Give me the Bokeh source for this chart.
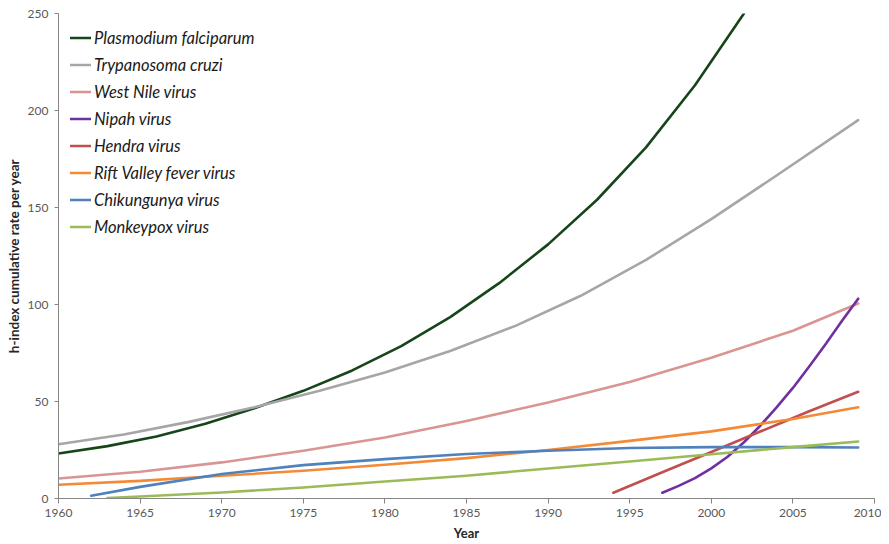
from bokeh.plotting import figure
from bokeh.models import Range1d, Legend, LegendItem, FixedTicker
from bokeh.embed import file_html
from bokeh.resources import INLINE

# ---- data ----
plasmodium_years = [1960, 1963, 1966, 1969, 1972, 1975, 1978, 1981, 1984, 1987, 1990, 1993, 1996, 1999, 2002]
plasmodium_vals  = [23.2, 27.0, 32.0, 38.5, 46.5, 55.5, 66.0, 78.5, 93.5, 111.0, 131.0, 154.0, 181.0, 213.0, 250.0]

trypanosoma_years = [1960, 1964, 1968, 1972, 1976, 1980, 1984, 1988, 1992, 1996, 2000, 2004, 2009]
trypanosoma_vals  = [28.0, 33.0, 39.5, 47.0, 55.5, 65.0, 76.0, 89.0, 104.5, 123.0, 144.0, 166.5, 195.0]

westnile_years = [1960, 1965, 1970, 1975, 1980, 1985, 1990, 1995, 2000, 2005, 2009]
westnile_vals  = [10.3, 13.8, 18.6, 24.6, 31.4, 40.0, 49.5, 60.0, 72.5, 86.5, 100.5]

nipah_years = [1997, 1998, 1999, 2000, 2001, 2002, 2003, 2004, 2005, 2006, 2007, 2008, 2009]
nipah_vals  = [3.0, 6.5, 10.5, 15.5, 21.5, 29.0, 37.5, 47.0, 57.0, 68.0, 79.5, 91.5, 103.0]

hendra_years = [1994, 1997, 2000, 2003, 2006, 2009]
hendra_vals  = [3.0, 13.5, 24.0, 34.5, 45.0, 55.0]

rift_years = [1960, 1965, 1970, 1975, 1980, 1985, 1990, 1995, 2000, 2005, 2009]
rift_vals  = [7.1, 9.1, 11.7, 14.3, 17.4, 20.8, 25.0, 29.7, 34.6, 41.0, 47.0]

chik_years = [1962, 1965, 1970, 1975, 1980, 1985, 1990, 1995, 2000, 2005, 2009]
chik_vals  = [1.4, 6.0, 12.6, 17.2, 20.3, 22.9, 24.6, 26.0, 26.5, 26.5, 26.3]

monkey_years = [1963, 1965, 1970, 1975, 1980, 1985, 1990, 1995, 2000, 2005, 2009]
monkey_vals  = [0.2, 1.0, 3.1, 5.7, 8.8, 11.7, 15.5, 19.1, 22.8, 26.5, 29.4]

series_names = ["Plasmodium falciparum", "Trypanosoma cruzi", "West Nile virus", "Nipah virus",
                "Hendra virus", "Rift Valley fever virus", "Chikungunya virus", "Monkeypox virus"]
series_colors = ["#17451a", "#a6a6a6", "#d99594", "#7030a0", "#c0504d", "#f58a36", "#4f81bd", "#9bbb59"]
series_data = [(plasmodium_years, plasmodium_vals), (trypanosoma_years, trypanosoma_vals),
               (westnile_years, westnile_vals), (nipah_years, nipah_vals),
               (hendra_years, hendra_vals), (rift_years, rift_vals),
               (chik_years, chik_vals), (monkey_years, monkey_vals)]

x_ticks = [1960, 1965, 1970, 1975, 1980, 1985, 1990, 1995, 2000, 2005, 2010]
y_ticks = [0, 50, 100, 150, 200, 250]

FONT = "Lato"
AXIS_GRAY = "#868686"
TEXT_GRAY = "#595959"

p = figure(frame_width=816, frame_height=485, output_backend="svg", toolbar_location=None,
           x_range=Range1d(1960, 2010), y_range=Range1d(0, 250),
           min_border_left=58, min_border_right=7, min_border_top=13, min_border_bottom=40)
p.outline_line_color = None
p.xgrid.grid_line_color = None
p.ygrid.grid_line_color = None
p.background_fill_color = "white"

renderers = []
for (xs, ys), c in zip(series_data, series_colors):
    r = p.line(xs, ys, line_color=c, line_width=2.6, line_cap="round", line_join="round")
    renderers.append(r)

for ax in (p.xaxis[0], p.yaxis[0]):
    ax.axis_line_color = AXIS_GRAY
    ax.major_tick_line_color = AXIS_GRAY
    ax.minor_tick_line_color = None
    ax.major_tick_in = 0
    ax.major_label_text_font = FONT
    ax.major_label_text_font_size = "12px"
    ax.major_label_text_color = TEXT_GRAY

p.xaxis.ticker = FixedTicker(ticks=x_ticks)
p.yaxis.ticker = FixedTicker(ticks=y_ticks)
p.xaxis.major_tick_out = 5
p.xaxis.major_label_standoff = 5
p.yaxis.major_tick_out = 4
p.yaxis.major_label_standoff = 6

p.xaxis.axis_label = "Year"
p.xaxis.axis_label_text_font = FONT
p.xaxis.axis_label_text_font_size = "13px"
p.xaxis.axis_label_text_font_style = "bold"
p.xaxis.axis_label_text_color = "#262626"
p.xaxis.axis_label_standoff = 5

p.yaxis.axis_label = "h-index cumulative rate per year"
p.yaxis.axis_label_text_font = FONT
p.yaxis.axis_label_text_font_size = "13.5px"
p.yaxis.axis_label_text_font_style = "bold"
p.yaxis.axis_label_text_color = "#262626"
p.yaxis.axis_label_standoff = 3

legend = Legend(items=[LegendItem(label=n, renderers=[r]) for n, r in zip(series_names, renderers)],
                location=(12, 261), margin=0, padding=0, spacing=6,
                glyph_width=21, glyph_height=21, label_height=21, label_standoff=3,
                label_text_font=FONT, label_text_font_size="16.5px", label_text_font_style="italic",
                label_text_color="#1a1a1a", border_line_color=None, background_fill_alpha=0)
p.add_layout(legend)

open("out.html", "w").write(file_html(p, INLINE))
